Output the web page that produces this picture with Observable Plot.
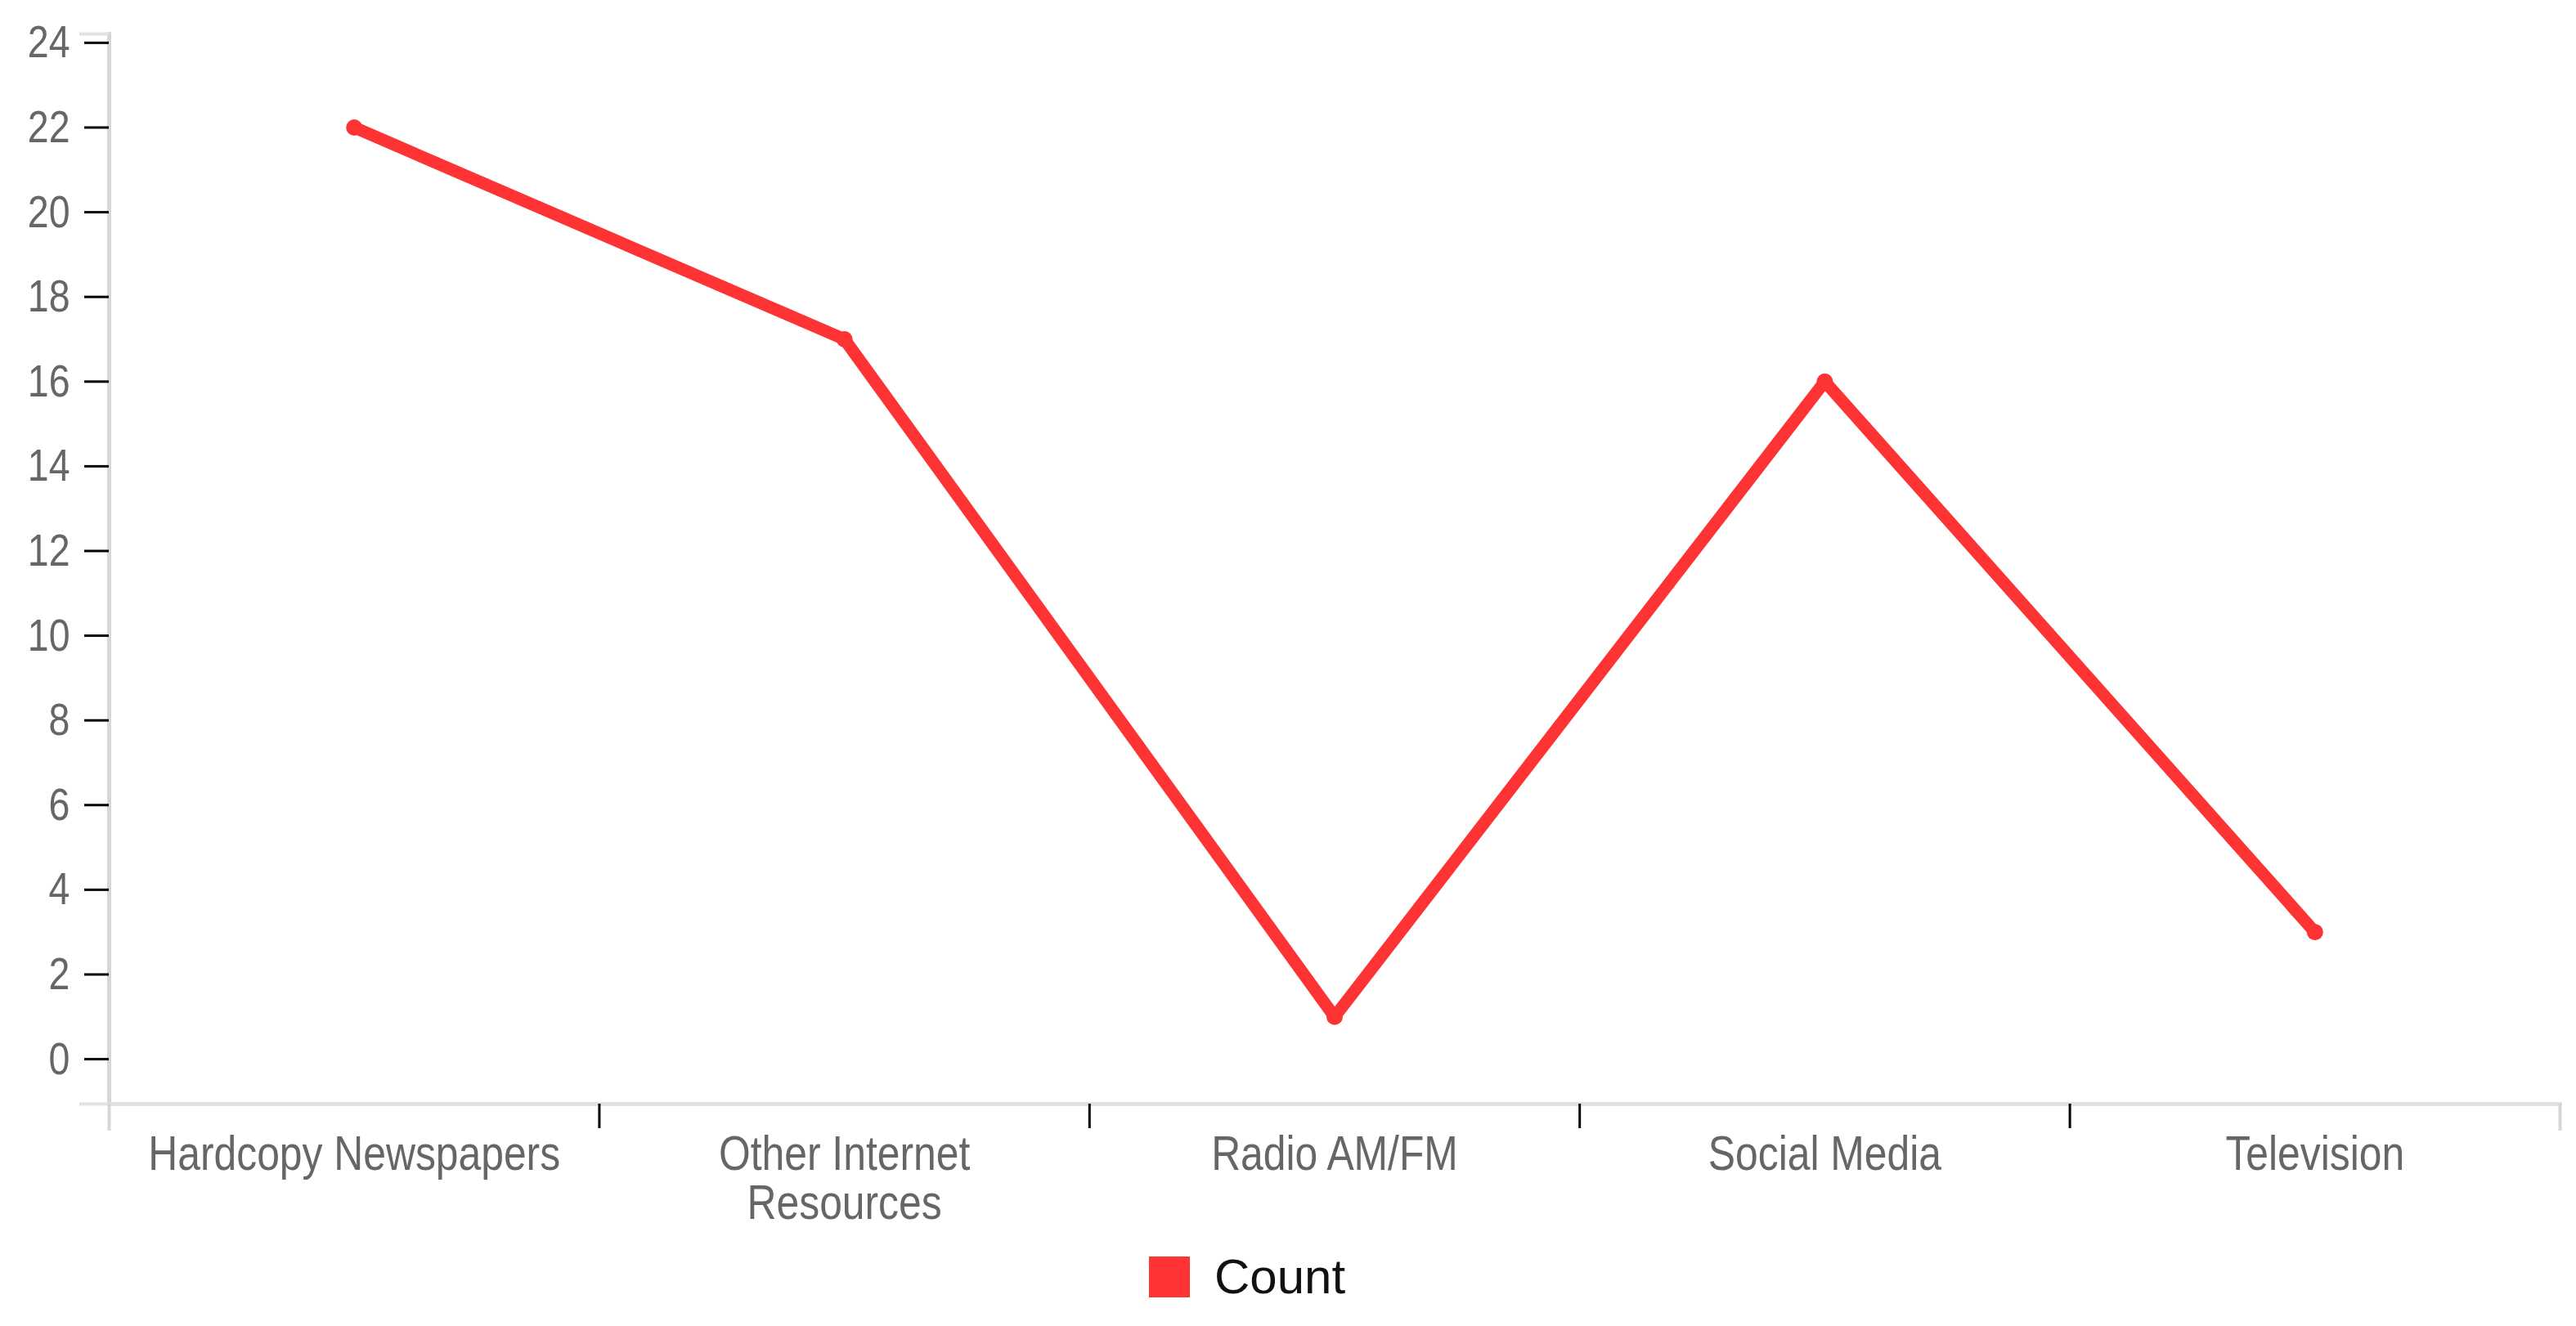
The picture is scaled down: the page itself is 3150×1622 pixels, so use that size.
<!DOCTYPE html>
<html>
<head>
<meta charset="utf-8">
<script src="https://cdn.jsdelivr.net/npm/d3@7"></script>
<script src="https://cdn.jsdelivr.net/npm/@observablehq/plot@0.6"></script>
<style>
  html, body { margin: 0; padding: 0; background: #fff; }
  body { width: 3150px; height: 1622px; overflow: hidden; position: relative;
         font-family: "Liberation Sans", Arial, sans-serif; }
  #chart { position: absolute; left: 0; top: 0; }
  #legend { position: absolute; left: 1405px; top: 1537px; display: flex; align-items: center; }
  #legend .sw { width: 50px; height: 50px; margin-right: 30px; }
  #legend .lb { font-family: "Liberation Sans", Arial, sans-serif; font-size: 60px; color: #111; line-height: 50px; }
</style>
</head>
<body>
<div id="chart"></div>
<div id="legend"><div class="sw"></div><div class="lb"></div></div>
<script>
const categories = ["Hardcopy Newspapers", "Other Internet Resources", "Radio AM/FM", "Social Media", "Television"];
const counts = [22, 17, 1, 16, 3];
const xTickLabels = ["Hardcopy Newspapers", "Other Internet\nResources", "Radio AM/FM", "Social Media", "Television"];
const yTicks = [0, 2, 4, 6, 8, 10, 12, 14, 16, 18, 20, 22, 24];
const seriesName = "Count";

const lineColor = "#fe3333";
const data = categories.map((c, i) => ({category: c, index: i, count: counts[i]}));
const idx = categories.map((c, i) => i);
const boundaries = categories.slice(1).map((c, i) => i + 0.5);
const yDomain = [-1.06, 24.21];
const xDomain = [-0.5, categories.length - 0.5];

const plot = Plot.plot({
  width: 3150,
  height: 1500,
  marginLeft: 133,
  marginRight: 20,
  marginTop: 41,
  marginBottom: 150,
  style: {background: "white", fontFamily: "'Liberation Sans', Arial, sans-serif"},
  x: {type: "linear", domain: xDomain},
  y: {domain: yDomain},
  marks: [
    Plot.frame({anchor: "left", stroke: "#d6d6d6", strokeWidth: 5}),
    Plot.frame({anchor: "bottom", stroke: "#e2e2e2", strokeWidth: 5}),
    Plot.axisY(yDomain, {tickSize: 36, stroke: "#e2e2e2", strokeWidth: 4, text: null, label: null}),
    Plot.axisY(yTicks, {tickSize: 30, stroke: "#000", strokeWidth: 3, text: null, label: null}),
    Plot.axisY(yTicks, {tickSize: 0, tickPadding: 48, fill: "#666", fontSize: 56, label: null,
                        tickFormat: d => String(d)}),
    Plot.axisX(xDomain, {tickSize: 33, stroke: "#d6d6d6", strokeWidth: 4, text: null, label: null}),
    Plot.axisX(boundaries, {tickSize: 30, stroke: "#000", strokeWidth: 3, text: null, label: null}),
    Plot.axisX(idx, {tickSize: 0, tickPadding: 38, fill: "#666", fontSize: 60, lineHeight: 1.0,
                     tickFormat: i => xTickLabels[i], label: null}),
    Plot.line(data, {x: "index", y: "count", stroke: lineColor, strokeWidth: 15, strokeLinejoin: "round"}),
    Plot.dot(data, {x: "index", y: "count", r: 10, fill: lineColor, stroke: "none"})
  ]
});
document.getElementById("chart").appendChild(plot);
// condensed look of the original tick font: shrink glyph widths via textLength
plot.querySelectorAll("text").forEach(t => {
  const spans = t.querySelectorAll("tspan");
  const els = spans.length ? Array.from(spans) : [t];
  els.forEach(e => {
    const len = e.getComputedTextLength();
    if (len > 0) {
      e.setAttribute("textLength", (len * 0.83).toFixed(1));
      e.setAttribute("lengthAdjust", "spacingAndGlyphs");
    }
  });
});
document.querySelector("#legend .sw").style.background = lineColor;
document.querySelector("#legend .lb").textContent = seriesName;
</script>
</body>
</html>
